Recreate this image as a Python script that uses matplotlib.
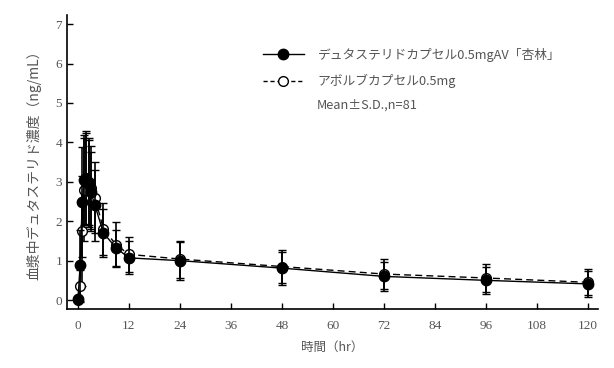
import matplotlib
matplotlib.use('Agg')
import matplotlib.pyplot as plt
from matplotlib.lines import Line2D

# Data (mean and SD, ng/mL)
hours = [0, 0.5, 1, 1.5, 2, 2.5, 3, 4, 6, 9, 12, 24, 48, 72, 96, 120]
test_mean = [0.02, 0.88, 2.48, 3.05, 3.08, 2.95, 2.75, 2.40, 1.70, 1.32, 1.07, 1.00, 0.81, 0.60, 0.50, 0.41]
test_sd = [0.05, 0.90, 1.40, 1.15, 1.15, 1.10, 1.00, 0.90, 0.62, 0.45, 0.42, 0.48, 0.42, 0.37, 0.35, 0.32]
ref_mean = [0.00, 0.35, 1.75, 2.80, 3.10, 3.00, 2.85, 2.60, 1.80, 1.40, 1.16, 1.04, 0.85, 0.66, 0.56, 0.45]
ref_sd = [0.02, 0.40, 1.40, 1.30, 1.20, 1.10, 1.05, 0.90, 0.65, 0.57, 0.45, 0.47, 0.42, 0.38, 0.36, 0.33]

test_label = 'デュタステリドカプセル0.5mgAV「杏林」'
ref_label = 'アボルブカプセル0.5mg'
note = 'Mean±S.D.,n=81'
xticks = [0, 12, 24, 36, 48, 60, 72, 84, 96, 108, 120]
yticks = [0, 1, 2, 3, 4, 5, 6, 7]

jp = ['Noto Sans CJK JP', 'DejaVu Sans']
txt_color = '#555555'

fig = plt.figure(figsize=(6.14, 3.68), dpi=100)
ax = fig.add_axes([0.109, 0.160, 0.865, 0.799])

ax.errorbar(hours, ref_mean, yerr=ref_sd, fmt='o', color='black', mfc='white', mec='black',
            markersize=7, mew=1.0, ecolor='black', elinewidth=1.2, capsize=3, capthick=1.0,
            ls=(0, (5, 3)), lw=1.0, zorder=2)
ax.errorbar(hours, test_mean, yerr=test_sd, fmt='o', color='black', mfc='black', mec='black',
            markersize=7.5, ecolor='black', elinewidth=1.2, capsize=3, capthick=1.0,
            ls='-', lw=1.0, zorder=3)

ax.set_xlim(-2.6, 122.4)
ax.set_ylim(-0.23, 7.23)
ax.set_xticks(xticks)
ax.set_yticks(yticks)
ax.spines['top'].set_visible(False)
ax.spines['right'].set_visible(False)
ax.spines['left'].set_linewidth(1.2)
ax.spines['bottom'].set_linewidth(1.2)
ax.tick_params(direction='in', length=4, width=1, colors='black', labelcolor=txt_color, labelsize=9.5)
ax.tick_params(axis='x', pad=8)
for lab in ax.get_xticklabels() + ax.get_yticklabels():
    lab.set_family('Liberation Serif')

ax.set_xlabel('時間（hr）', family=jp, fontsize=9, color=txt_color, labelpad=6)
ax.set_ylabel('血漿中デュタステリド濃度（ng/mL）', family=jp, fontsize=10, color=txt_color, labelpad=10)

handles = [
    Line2D([], [], color='black', lw=1.0, marker='o', markersize=7.5, mfc='black'),
    Line2D([], [], color='black', lw=1.0, ls=(0, (3, 2)), marker='o', markersize=7, mfc='white'),
]
leg = ax.legend(handles, [test_label, ref_label], loc='upper left', bbox_to_anchor=(0.428, 0.870),
                bbox_transform=fig.transFigure, frameon=False, handlelength=3.2, handletextpad=1.1,
                labelspacing=0.95, borderpad=0, borderaxespad=0, prop={'family': jp, 'size': 9.2})
for t in leg.get_texts():
    t.set_color(txt_color)
fig.text(317 / 614, 1 - 105 / 368, note, family=jp, fontsize=9.2, color=txt_color, va='center', ha='left')

fig.savefig('out.png', dpi=100)
